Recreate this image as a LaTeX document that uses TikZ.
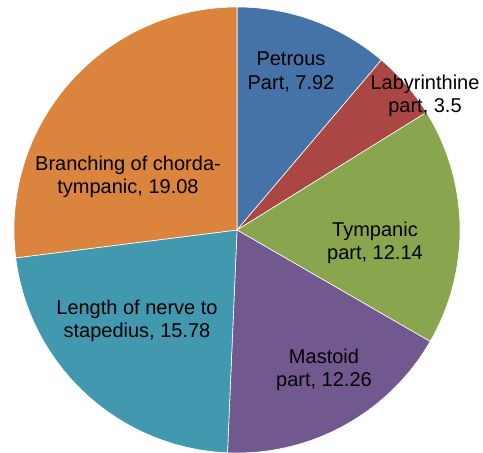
\documentclass[tikz,border=0pt]{standalone}
\usepackage{fontspec}
\setmainfont{Liberation Sans}
\definecolor{cPet}{HTML}{4572A7}
\definecolor{cLab}{HTML}{AA4643}
\definecolor{cTym}{HTML}{89A54E}
\definecolor{cMas}{HTML}{71588F}
\definecolor{cSta}{HTML}{4198AF}
\definecolor{cBra}{HTML}{DB843D}
\begin{document}
\begin{tikzpicture}[x=1pt,y=1pt,
  slice/.style={draw=white,line width=0.6pt,line join=round},
  lbl/.style={align=center,font=\fontsize{20}{23.5}\selectfont,text=black,inner sep=0pt}]
\useasboundingbox (0,0) rectangle (483,453);
\fill[white] (0,0) rectangle (483,453);
\coordinate (c) at (237,223);
\def\R{223}
\fill[cPet,slice] (c) -- ++(90:\R) arc[start angle=90,end angle=49.660,radius=\R] -- cycle;
\fill[cLab,slice] (c) -- ++(49.660:\R) arc[start angle=49.660,end angle=31.833,radius=\R] -- cycle;
\fill[cTym,slice] (c) -- ++(31.833:\R) arc[start angle=31.833,end angle=-30.001,radius=\R] -- cycle;
\fill[cMas,slice] (c) -- ++(-30.001:\R) arc[start angle=-30.001,end angle=-92.446,radius=\R] -- cycle;
\fill[cSta,slice] (c) -- ++(-92.446:\R) arc[start angle=-92.446,end angle=-172.820,radius=\R] -- cycle;
\fill[cBra,slice] (c) -- ++(-172.820:\R) arc[start angle=-172.820,end angle=-270,radius=\R] -- cycle;
\node[lbl] (pet) at (291,381) {Petrous\\Part, 7.92};
\node[lbl] (lab) at (425,357) {Labyrinthine\\part, 3.5};
\node[lbl] (tym) at (375,210) {Tympanic\\part, 12.14};
\node[lbl] (mas) at (324,83) {Mastoid\\part, 12.26};
\node[lbl] (sta) at (137,132) {Length of nerve to\\stapedius, 15.78};
\node[lbl] (bra) at (128,276) {Branching of chorda-\\tympanic, 19.08};
\end{tikzpicture}
\end{document}
